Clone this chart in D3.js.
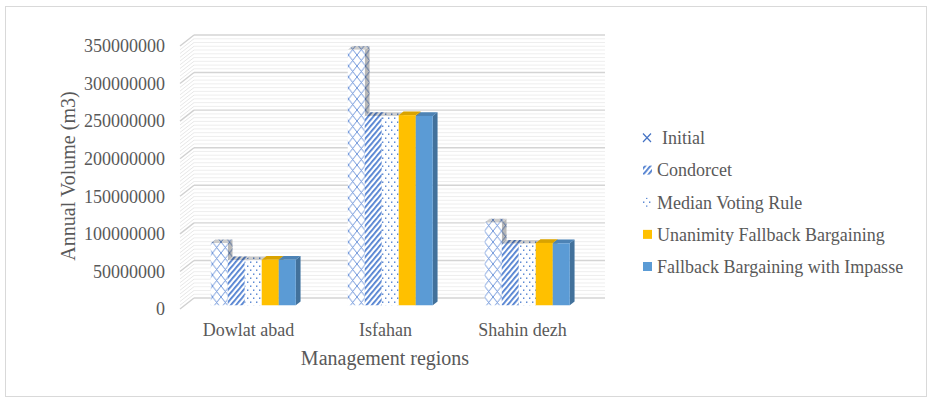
<!DOCTYPE html>
<html>
<head>
<meta charset="utf-8">
<script src="https://cdn.jsdelivr.net/npm/d3@7"></script>
<style>
  html, body { margin: 0; padding: 0; background: #fff; }
  svg { display: block; }
  text { font-family: "Liberation Serif", "Times New Roman", serif; fill: #595959; }
</style>
</head>
<body>
<svg id="chart" width="927" height="398"></svg>
<script>
// Annual water volume allocated to each management region under each rule
const categories = ["Dowlat abad", "Isfahan", "Shahin dezh"];
const seriesNames = ["Initial", "Condorcet", "Median Voting Rule", "Unanimity Fallback Bargaining", "Fallback Bargaining with Impasse"];
const initial   = [82.5e6, 340e6, 110e6];
const condorcet = [60e6, 252e6, 82e6];
const median    = [60e6, 252e6, 82e6];
const unanimity = [60.5e6, 253e6, 83e6];
const fallback  = [60.5e6, 252e6, 82.5e6];
const yTicks = [0, 50000000, 100000000, 150000000, 200000000, 250000000, 300000000, 350000000];
const yTitle = "Annual Volume (m3)";
const xTitle = "Management regions";

const seriesValues = [initial, condorcet, median, unanimity, fallback];
const fills = ["url(#pCross)", "url(#pStripe)", "url(#pDots)", "#FFC000", "#5B9BD5"];

const svg = d3.select("#chart");
const defs = svg.append("defs");
const patBlue = "#4f7fd0";

// Fill patterns for the first three series
const pc = defs.append("pattern").attr("id", "pCross").attr("patternUnits", "userSpaceOnUse")
  .attr("width", 8.5).attr("height", 11);
pc.append("rect").attr("width", 8.5).attr("height", 11).attr("fill", "#fff");
pc.append("path").attr("d", "M0,0 L8.5,11 M8.5,0 L0,11").attr("stroke", "#5f8ad6").attr("stroke-width", 0.9).attr("fill", "none");

const ps = defs.append("pattern").attr("id", "pStripe").attr("patternUnits", "userSpaceOnUse")
  .attr("width", 4).attr("height", 4).attr("patternTransform", "rotate(40)");
ps.append("rect").attr("width", 4).attr("height", 4).attr("fill", "#fff");
ps.append("rect").attr("width", 1.8).attr("height", 4).attr("fill", patBlue);

const pd = defs.append("pattern").attr("id", "pDots").attr("patternUnits", "userSpaceOnUse")
  .attr("width", 6).attr("height", 8);
pd.append("rect").attr("width", 6).attr("height", 8).attr("fill", "#fff");
pd.append("rect").attr("x", 1).attr("y", 1.5).attr("width", 1.4).attr("height", 1.4).attr("fill", patBlue);
pd.append("rect").attr("x", 4).attr("y", 5.5).attr("width", 1.4).attr("height", 1.4).attr("fill", patBlue);

// Chart frame
svg.append("rect").attr("x", 5.5).attr("y", 6.5).attr("width", 921).attr("height", 390)
  .attr("fill", "#fff").attr("stroke", "#d9d9d9").attr("stroke-width", 1);

// Oblique 3D geometry: front plane scales plus a depth offset
const frontLeft = 180, frontRight = 591;
const depthDx = 14, depthDy = 11;
const x = d3.scaleBand().domain(categories).range([frontLeft, frontRight]);
const xs = d3.scaleBand().domain(seriesNames).range([0, x.bandwidth()]).paddingInner(0).paddingOuter(1.53);
const y = d3.scaleLinear().domain([0, 350e6]).range([309, 46]);

// Walls: back wall and left side wall with major/minor gridlines
const grid = svg.append("g");
const minorVals = d3.range(0, 350e6 + 1, 5e6);
minorVals.forEach(v => {
  const major = Math.round(v / 5e6) % 10 === 0;
  const col = major ? "#d4d4d4" : "#ececec";
  const w = major ? 1.4 : 0.9;
  grid.append("line")
    .attr("x1", frontLeft + depthDx).attr("x2", frontRight + depthDx)
    .attr("y1", y(v) - depthDy).attr("y2", y(v) - depthDy)
    .attr("stroke", col).attr("stroke-width", w);
  grid.append("line")
    .attr("x1", frontLeft).attr("x2", frontLeft + depthDx)
    .attr("y1", y(v)).attr("y2", y(v) - depthDy)
    .attr("stroke", major ? "#d0d0d0" : "#e4e4e4").attr("stroke-width", w);
});

// Y tick labels on the front plane
svg.append("g").selectAll("text").data(yTicks).join("text")
  .attr("x", 165).attr("y", d => y(d)).attr("dy", "0.35em")
  .attr("text-anchor", "end").attr("font-size", 18)
  .text(d => d3.format("d")(d));

// 3D columns: bars sit between z0 and z1 of the depth
const z0 = 0.34, z1 = 0.68;
const bars = svg.append("g");
categories.forEach((cat, ci) => {
  seriesNames.forEach((s, si) => {
    const v = seriesValues[si][ci];
    const fx = x(cat) + xs(s) + depthDx * z0;
    const w = xs.bandwidth();
    const ddx = depthDx * (z1 - z0), ddy = depthDy * (z1 - z0);
    const top = y(v) - depthDy * z0;
    const base = y(0) - depthDy * z0;
    const g = bars.append("g");
    const side = `M${fx + w},${top} L${fx + w + ddx},${top - ddy} L${fx + w + ddx},${base - ddy} L${fx + w},${base} Z`;
    const topFace = `M${fx},${top} L${fx + w},${top} L${fx + w + ddx},${top - ddy} L${fx + ddx},${top - ddy} Z`;
    g.append("path").attr("d", side).attr("fill", fills[si]);
    g.append("path").attr("d", side).attr("fill", "#000").attr("fill-opacity", si < 3 ? 0.28 : 0.27);
    g.append("path").attr("d", topFace).attr("fill", fills[si]);
    g.append("path").attr("d", topFace).attr("fill", "#000").attr("fill-opacity", si < 3 ? 0.2 : 0.15);
    g.append("rect").attr("x", fx).attr("y", top).attr("width", w).attr("height", base - top)
      .attr("fill", fills[si]);
  });
});

// Category labels and axis titles
svg.append("g").selectAll("text").data(categories).join("text")
  .attr("x", d => x(d) + x.bandwidth() / 2).attr("y", 330).attr("dy", "0.35em")
  .attr("text-anchor", "middle").attr("font-size", 18).text(d => d);

svg.append("text").attr("x", 385).attr("y", 358).attr("dy", "0.35em")
  .attr("text-anchor", "middle").attr("font-size", 20).text(xTitle);

svg.append("text").attr("transform", "translate(68,176) rotate(-90)").attr("dy", "0.35em")
  .attr("text-anchor", "middle").attr("font-size", 20).text(yTitle);

// Legend
const legY = d3.scalePoint().domain(seriesNames).range([138, 266.5]);
const leg = svg.append("g");
seriesNames.forEach((s, i) => {
  const cy = legY(s);
  if (i === 0) {
    leg.append("path").attr("d", `M${643},${cy - 4.5} L${651},${cy + 4} M${651},${cy - 4.5} L${643},${cy + 4}`)
      .attr("stroke", "#4472C4").attr("stroke-width", 1.2);
  } else {
    leg.append("rect").attr("x", 643).attr("y", cy - 4.5).attr("width", 9).attr("height", 9)
      .attr("fill", fills[i]);
  }
  leg.append("text").attr("x", i === 0 ? 662 : 657).attr("y", cy).attr("dy", "0.35em")
    .attr("font-size", 18).text(s);
});
</script>
</body>
</html>
